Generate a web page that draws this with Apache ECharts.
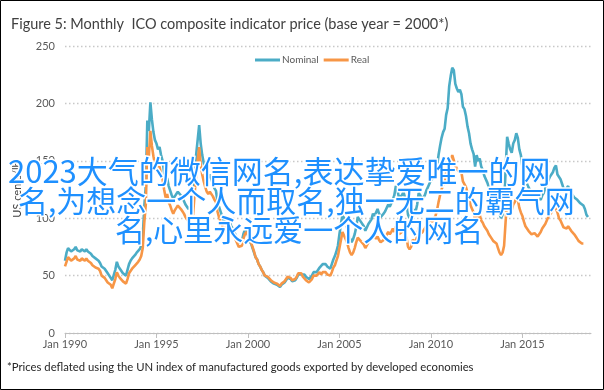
<!DOCTYPE html>
<html>
<head>
<meta charset="utf-8">
<script src="https://cdn.jsdelivr.net/npm/echarts@6/dist/echarts.min.js"></script>
<style>
html,body{margin:0;padding:0;background:#fff;}
#chart{width:604px;height:390px;}
</style>
</head>
<body>
<div id="chart"></div>
<script>
// ---- Data ----
const monthNames = ['Jan','Feb','Mar','Apr','May','Jun','Jul','Aug','Sep','Oct','Nov','Dec'];
const firstYear = 1990, lastYear = 2018, lastMonth = 10; // categories run Jan 1990 .. Oct 2018
const categories = [];
for (let y = firstYear; y <= lastYear; y++) {
  for (let m = 0; m < 12; m++) {
    if (y === lastYear && m >= lastMonth) break;
    categories.push(monthNames[m] + ' ' + y);
  }
}
const xTickLabels = ['Jan 1990','Jan 1995','Jan 2000','Jan 2005','Jan 2010','Jan 2015'];
const yTicks = [0, 50, 100, 150, 200, 250];

// Nominal ICO composite indicator price, US cents/lb (monthly, Jan 1990 - Aug 2018)
const nominal = [
  63, 70, 74, 75, 71, 70, 73, 75, 72, 73, 71, 73,        // 1990
  72, 71, 73, 71, 70, 69, 67, 66, 65, 64, 63, 61,        // 1991
  58, 57, 56, 54, 52, 50, 49, 46, 47, 55, 62, 58,        // 1992
  56, 54, 52, 51, 50, 55, 60, 63, 65, 66, 68, 70,        // 1993
  71, 73, 76, 84, 110, 128, 185, 176, 201, 186, 175, 168, // 1994
  165, 160, 162, 155, 150, 140, 132, 135, 128, 124, 120, 117, // 1995
  119, 121, 123, 124, 120, 118, 115, 112, 110, 108, 109, 112, // 1996
  115, 135, 155, 168, 181, 165, 155, 148, 142, 138, 135, 138, // 1997
  134, 130, 126, 124, 115, 110, 106, 102, 98, 100, 97, 95,    // 1998
  97, 93, 91, 88, 85, 82, 79, 78, 80, 86, 90, 92,             // 1999
  85, 80, 78, 74, 70, 66, 64, 60, 58, 55, 53, 50,             // 2000
  50, 48, 47, 45, 44, 43, 43, 42, 41, 40, 42, 43,             // 2001
  44, 46, 48, 49, 47, 45, 44, 46, 48, 51, 52, 51,             // 2002
  52, 51, 49, 48, 47, 46, 50, 53, 54, 53, 54, 57,             // 2003
  58, 60, 61, 60, 58, 59, 56, 60, 64, 67, 71, 76,             // 2004
  86, 95, 103, 100, 98, 92, 86, 82, 79, 82, 86, 92,           // 2005
  101, 99, 97, 96, 93, 89, 90, 95, 94, 99, 104, 102,          // 2006
  105, 108, 104, 101, 102, 104, 106, 107, 112, 110, 113, 116, // 2007
  120, 128, 125, 118, 117, 120, 123, 118, 114, 103, 100, 103, // 2008
  108, 107, 106, 112, 122, 120, 116, 118, 120, 124, 127, 130, // 2009
  133, 132, 136, 139, 145, 155, 163, 170, 175, 178, 190, 196, // 2010
  215, 224, 231, 229, 217, 213, 210, 212, 208, 197, 195, 189, // 2011
  180, 174, 165, 160, 156, 145, 155, 150, 152, 145, 142, 137, // 2012
  136, 131, 127, 126, 122, 119, 117, 115, 110, 104, 100, 103, // 2013
  112, 142, 171, 165, 160, 157, 165, 168, 174, 170, 160, 155, // 2014
  145, 138, 132, 130, 127, 126, 122, 120, 124, 123, 119, 118, // 2015
  116, 120, 122, 126, 127, 133, 136, 138, 140, 144, 146, 138, // 2016
  137, 134, 130, 126, 124, 125, 128, 124, 122, 120, 118, 117, // 2017
  116, 115, 113, 112, 111, 108, 103, 101                      // 2018
];

// Real price (base year 2000), US cents/lb (monthly, Jan 1990 - May 2018)
const real = [
  58, 62, 66, 67, 63, 62, 65, 67, 64, 65, 63, 65,             // 1990
  64, 63, 65, 63, 62, 61, 59, 58, 57, 56, 56, 54,             // 1991
  50, 49, 48, 46, 44, 43, 42, 39, 40, 47, 53, 50,             // 1992
  48, 47, 45, 44, 43, 47, 52, 54, 56, 57, 59, 60,             // 1993
  62, 64, 67, 74, 96, 112, 162, 154, 176, 163, 154, 147,      // 1994
  147, 143, 145, 138, 134, 125, 118, 121, 114, 111, 107, 104, // 1995
  107, 109, 111, 112, 108, 106, 104, 101, 99, 97, 98, 101,    // 1996
  103, 121, 138, 150, 162, 147, 138, 132, 127, 123, 121, 123, // 1997
  123, 119, 116, 114, 106, 101, 97, 94, 90, 92, 89, 87,       // 1998
  92, 89, 87, 84, 81, 78, 75, 74, 76, 82, 86, 88,             // 1999
  86, 81, 79, 75, 71, 66, 64, 60, 58, 55, 53, 50,             // 2000
  51, 49, 48, 46, 45, 44, 44, 43, 42, 41, 43, 44,             // 2001
  45, 47, 49, 50, 48, 46, 45, 47, 49, 52, 53, 52,             // 2002
  49, 48, 46, 45, 44, 44, 47, 50, 51, 50, 51, 53,             // 2003
  51, 53, 54, 53, 51, 52, 50, 53, 57, 59, 63, 67,             // 2004
  74, 81, 88, 85, 84, 79, 74, 70, 68, 70, 74, 79,             // 2005
  83, 82, 80, 79, 77, 74, 74, 79, 78, 82, 86, 84,             // 2006
  82, 84, 81, 79, 80, 81, 83, 84, 88, 86, 88, 91,             // 2007
  88, 93, 91, 86, 85, 88, 90, 86, 83, 75, 73, 75,             // 2008
  81, 80, 80, 84, 92, 90, 87, 89, 90, 93, 95, 98,             // 2009
  98, 97, 100, 102, 107, 114, 120, 125, 129, 131, 140, 144,   // 2010
  144, 150, 155, 154, 146, 143, 141, 142, 140, 132, 131, 127, // 2011
  122, 118, 111, 108, 105, 98, 105, 101, 103, 98, 96, 93,     // 2012
  92, 89, 86, 85, 82, 80, 79, 78, 74, 70, 68, 70,             // 2013
  76, 97, 116, 112, 109, 107, 112, 114, 118, 116, 109, 105,   // 2014
  102, 97, 93, 92, 89, 89, 86, 85, 87, 87, 84, 83,            // 2015
  88, 91, 92, 95, 96, 101, 103, 105, 106, 112, 111, 105,      // 2016
  100, 98, 95, 92, 91, 91, 93, 91, 89, 88, 86, 84,            // 2017
  82, 80, 79, 78, 78                                          // 2018
];

const titleText = 'Figure 5: Monthly  ICO composite indicator price (base year = 2000*)';
const footText = '*Prices deflated using the UN index of manufactured goods exported by developed economies';
const overlayLines = [
  '2023大气的微信网名,表达挚爱唯一的网',
  '名,为想念一个人而取名,独一无二的霸气网',
  '名,心里永远爱一个人的网名'
];

// ---- Chart ----
const chart = echarts.init(document.getElementById('chart'), null, {renderer: 'canvas'});
const baseFont = 'Lato, "Open Sans", sans-serif';
const cjkFont = '"Noto Sans CJK SC", sans-serif';
const overlayPos = [[8, 171, 31], [18, 201, 30], [115, 230, 30]];

chart.setOption({
  animation: false,
  backgroundColor: '#fff',
  title: {
    text: titleText,
    left: 6, top: 12,
    textStyle: {fontFamily: baseFont, fontSize: 14.5, fontWeight: 'normal', color: '#404040'}
  },
  legend: {
    data: ['Nominal', 'Real'],
    left: 250, top: 50,
    icon: 'rect', itemWidth: 25, itemHeight: 3, itemGap: 5,
    textStyle: {fontFamily: baseFont, fontSize: 10, color: '#595959', padding: [0, 0, 0, -3]}
  },
  grid: {left: 65, right: 13, top: 46, bottom: 57, containLabel: false},
  xAxis: {
    type: 'category',
    data: categories,
    boundaryGap: false,
    axisLine: {lineStyle: {color: '#BFBFBF', width: 1}},
    axisTick: {show: true, length: 5, lineStyle: {color: '#BFBFBF'},
      interval: (i, v) => xTickLabels.indexOf(v) >= 0},
    axisLabel: {
      interval: (i, v) => xTickLabels.indexOf(v) >= 0,
      fontFamily: baseFont, fontSize: 11, color: '#595959', margin: 6
    },
    splitLine: {show: false}
  },
  yAxis: {
    type: 'value',
    min: yTicks[0], max: yTicks[yTicks.length - 1], interval: 50,
    name: 'US cents/lb',
    nameLocation: 'middle', nameGap: 42, nameRotate: 90,
    nameTextStyle: {fontFamily: baseFont, fontSize: 11, color: '#404040'},
    axisLine: {show: false},
    axisTick: {show: false},
    axisLabel: {fontFamily: baseFont, fontSize: 11, color: '#595959', margin: 10},
    splitLine: {show: true, lineStyle: {color: '#C8C8C8', type: [1.5, 2.5], width: 1.3}}
  },
  series: [
    {
      name: 'Nominal', type: 'line', data: nominal, showSymbol: false, symbol: 'none',
      lineStyle: {color: '#4BACC6', width: 2.6}, itemStyle: {color: '#4BACC6'}, z: 2
    },
    {
      name: 'Real', type: 'line', data: real, showSymbol: false, symbol: 'none',
      lineStyle: {color: '#F79646', width: 2.6}, itemStyle: {color: '#F79646'}, z: 3
    }
  ],
  graphic: [
    {type: 'rect', shape: {x: 0.5, y: 0.5, width: 603, height: 389},
     style: {fill: 'none', stroke: '#000', lineWidth: 1}, silent: true, z: 200},
    {type: 'text', left: 7, top: 362, silent: true,
     style: {text: footText, font: '11.3px ' + baseFont, fill: '#262626'}},
  ].concat(overlayLines.map((t, i) => ({
    type: 'text', x: overlayPos[i][0], y: overlayPos[i][1], silent: true, z: 100,
    style: {text: t, font: overlayPos[i][2] + 'px ' + cjkFont, fill: '#1E90FF', stroke: '#FFFFFF', lineWidth: 3,
            verticalAlign: 'middle', align: 'left'}
  })))
});
</script>
</body>
</html>
